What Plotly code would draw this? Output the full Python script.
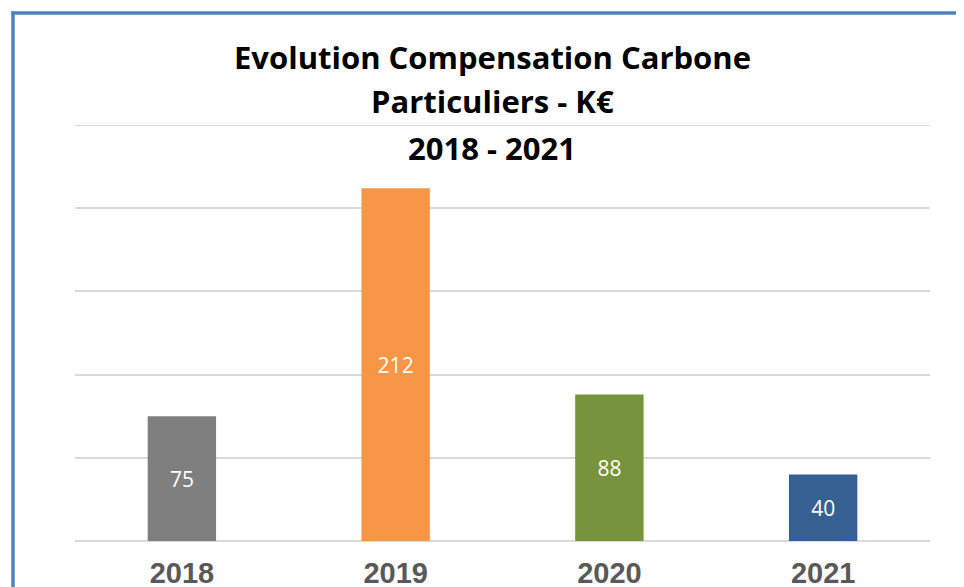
import plotly.graph_objects as go

years = ["2018", "2019", "2020", "2021"]
values = [75, 212, 88, 40]
colors = ["#7F7F7F", "#F79646", "#77933C", "#376092"]
title_lines = ["Evolution Compensation Carbone", "Particuliers - K€", "2018 - 2021"]

OFF = 8  # page body margin
W, H = 964 - OFF, 587 - OFF
L, R, T, B = 75 - OFF, 34, 125 - OFF, 46
pw, ph = W - L - R, H - T - B

def px_x(x):
    return (x - OFF - L) / pw

def px_y(y):
    return (H - B - (y - OFF)) / ph

fig = go.Figure(go.Bar(
    x=years, y=values, marker=dict(color=colors, line=dict(width=0)),
    text=[str(v) for v in values], textposition="inside", insidetextanchor="middle",
    textfont=dict(family="Open Sans", size=21, color="white"),
    textangle=0, cliponaxis=False,
))

fig.update_layout(
    width=W, height=H, margin=dict(l=L, r=R, t=T, b=B, autoexpand=False),
    paper_bgcolor="white", plot_bgcolor="white", showlegend=False,
    bargap=0.68,
    xaxis=dict(showgrid=False, showline=False, ticks="", automargin=False,
               tickfont=dict(family="Liberation Sans", size=29, color="#595959"),
               ticklabelstandoff=12),
    yaxis=dict(range=[0, 250], dtick=50, showticklabels=False, showgrid=True,
               automargin=False,
               gridcolor="#D9D9D9", gridwidth=2, zeroline=True, zerolinecolor="#D9D9D9",
               zerolinewidth=2, showline=False, ticks=""),
)
fig.update_xaxes(tickprefix="<b>", ticksuffix="</b>")

fig.add_shape(type="line", xref="paper", yref="y", x0=0, x1=1, y0=250, y1=250,
              line=dict(color="#D9D9D9", width=2), layer="below")

ys = [57, 101, 148]
for t, y in zip(title_lines, ys):
    fig.add_annotation(text="<b>" + t + "</b>", xref="paper", yref="paper",
                       x=px_x(492), y=px_y(y), showarrow=False, xanchor="center", yanchor="middle",
                       font=dict(family="Open Sans", size=31, color="black"))

fig.add_shape(type="line", xref="paper", yref="paper", x0=px_x(13), x1=px_x(13),
              y0=px_y(11.5), y1=px_y(600), line=dict(color="#4F81BD", width=3.5))
fig.add_shape(type="line", xref="paper", yref="paper", x0=px_x(11.5), x1=px_x(970),
              y0=px_y(13), y1=px_y(13), line=dict(color="#4F81BD", width=3.5))

fig.write_html("out.html", config={"displayModeBar": False})
